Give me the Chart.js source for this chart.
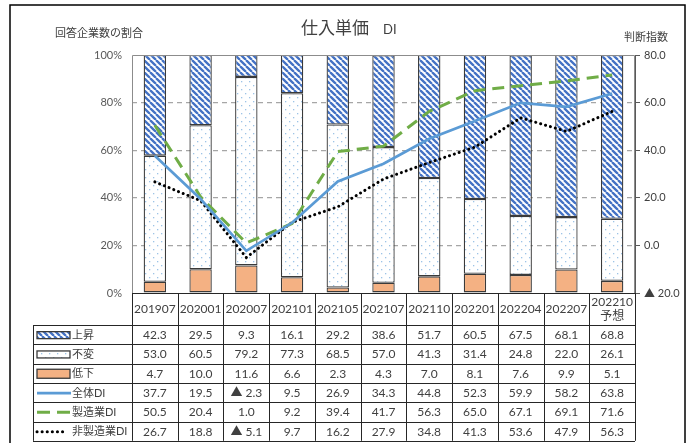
<!DOCTYPE html>
<html><head><meta charset="utf-8">
<script src="https://cdn.jsdelivr.net/npm/chart.js@4"></script>
<style>html,body{margin:0;padding:0;background:#fff}canvas{display:block}</style>
</head><body>
<canvas id="c" width="692" height="443"></canvas>
<script>
// Survey periods (columns of the table)
const periods = ['201907','202001','202007','202101','202105','202107','202110','202201','202204','202207','202210'];
const periodNotes = ['','','','','','','','','','','予想'];

// Share of respondents (%)
const rise = [42.3, 29.5, 9.3, 16.1, 29.2, 38.6, 51.7, 60.5, 67.5, 68.1, 68.8];
const same = [53.0, 60.5, 79.2, 77.3, 68.5, 57.0, 41.3, 31.4, 24.8, 22.0, 26.1];
const fall = [4.7, 10.0, 11.6, 6.6, 2.3, 4.3, 7.0, 8.1, 7.6, 9.9, 5.1];

// Diffusion indexes
const allDI = [37.7, 19.5, -2.3, 9.5, 26.9, 34.3, 44.8, 52.3, 59.9, 58.2, 63.8];
const mfgDI = [50.5, 20.4, 1.0, 9.2, 39.4, 41.7, 56.3, 65.0, 67.1, 69.1, 71.6];
const nonMfgDI = [26.7, 18.8, -5.1, 9.7, 16.2, 27.9, 34.8, 41.3, 53.6, 47.9, 56.3];

// Axis ticks
const shareTicks = [0, 20, 40, 60, 80, 100];
const diTicks = [-20, 0, 20, 40, 60, 80];

const FONT = "Lato, 'Noto Sans CJK JP', sans-serif";
const TEXT = '#404040';

const canvas = document.getElementById('c');
const ctx = canvas.getContext('2d');

function makeHatch() {
  const s = 6, c = document.createElement('canvas');
  c.width = c.height = s;
  const g = c.getContext('2d');
  g.fillStyle = '#fff'; g.fillRect(0, 0, s, s);
  g.strokeStyle = '#4472C4'; g.lineWidth = 2.3;
  g.beginPath();
  for (let k = -1; k <= 1; k++) { g.moveTo(k * s, 0); g.lineTo(k * s + s, s); }
  g.stroke();
  return ctx.createPattern(c, 'repeat');
}
function makeDots() {
  const c = document.createElement('canvas');
  c.width = 8; c.height = 8;
  const g = c.getContext('2d');
  g.fillStyle = '#fff'; g.fillRect(0, 0, 8, 8);
  g.fillStyle = '#9DC3E6';
  g.fillRect(1, 1, 1.3, 1.3);
  g.fillRect(5, 5, 1.3, 1.3);
  return ctx.createPattern(c, 'repeat');
}
const hatch = makeHatch();
const dots = makeDots();
const ORANGE = '#F4B183';
const BAR_BORDER = '#3A3A3A';

const fmt = v => v < 0 ? '▲ ' + Math.abs(v).toFixed(1) : v.toFixed(1);

const barCommon = {
  type: 'bar', yAxisID: 'y', stack: 's', order: 2,
  borderColor: BAR_BORDER, borderWidth: 1.3, borderSkipped: false,
  barPercentage: 0.49, categoryPercentage: 1
};
const lineCommon = {
  type: 'line', yAxisID: 'y2', order: 0, pointRadius: 0, tension: 0, fill: false
};

const dsFall = { ...barCommon, label: '低下', data: fall, backgroundColor: ORANGE };
const dsSame = { ...barCommon, label: '不変', data: same, backgroundColor: dots };
const dsRise = { ...barCommon, label: '上昇', data: rise, backgroundColor: hatch };
const dsAll = { ...lineCommon, label: '全体DI', data: allDI, borderColor: '#5B9BD5', borderWidth: 2.7 };
const dsMfg = { ...lineCommon, label: '製造業DI', data: mfgDI, borderColor: '#70AD47', borderWidth: 3, borderDash: [12, 7] };
const dsNon = { ...lineCommon, label: '非製造業DI', data: nonMfgDI, borderColor: '#000', borderWidth: 3, borderDash: [0.1, 5], borderCapStyle: 'round' };

const tableRows = [
  { ds: dsRise, kind: 'box', h: 7 },
  { ds: dsSame, kind: 'box', h: 7 },
  { ds: dsFall, kind: 'box', h: 9 },
  { ds: dsAll, kind: 'line', x2: 71 },
  { ds: dsMfg, kind: 'line', x2: 70, dash: [13, 7] },
  { ds: dsNon, kind: 'line', x2: 66 }
];

const decor = {
  id: 'decor',
  afterDraw(chart) {
    const { ctx: g, chartArea: a, scales: { x } } = chart;
    const n = periods.length;
    const colW = (a.right - a.left) / n;
    g.save();

    // plot area frame
    g.strokeStyle = '#8C8C8C'; g.lineWidth = 1;
    g.beginPath();
    g.moveTo(a.left + 0.5, a.bottom); g.lineTo(a.left + 0.5, a.top + 0.5);
    g.lineTo(a.right - 0.5, a.top + 0.5); g.lineTo(a.right - 0.5, a.bottom);
    g.stroke();

    // titles
    g.fillStyle = TEXT; g.textBaseline = 'middle';
    g.textAlign = 'left';
    g.font = "17px " + FONT;
    g.fillText('仕入単価', 301, 29);
    g.font = "13px " + FONT;
    g.fillText('DI', 383, 30);
    g.font = "11px " + FONT;
    g.fillText('回答企業数の割合', 55, 33);
    g.fillText('判断指数', 624, 37);

    // data table
    const top = a.bottom, headH = 32, rowH = 19.3;
    const legL = 33;
    const yRows = [top, top + headH];
    for (let r = 1; r <= tableRows.length; r++) yRows.push(top + headH + r * rowH);
    const bottom = yRows[yRows.length - 1];

    g.strokeStyle = '#262626'; g.lineWidth = 1;
    g.beginPath();
    g.moveTo(a.left, top + 0.5); g.lineTo(a.right, top + 0.5);
    for (let r = 1; r < yRows.length; r++) {
      const yy = Math.round(yRows[r]) + 0.5;
      g.moveTo(legL, yy); g.lineTo(a.right, yy);
    }
    for (let c = 0; c <= n; c++) {
      const xx = Math.round(a.left + c * colW) + 0.5;
      g.moveTo(xx, top); g.lineTo(xx, bottom);
    }
    g.moveTo(legL + 0.5, yRows[1]); g.lineTo(legL + 0.5, bottom);
    g.stroke();

    // header: periods
    g.fillStyle = TEXT; g.textAlign = 'center'; g.font = "12px " + FONT;
    periods.forEach((p, i) => {
      const cx = x.getPixelForValue(i);
      if (periodNotes[i]) {
        g.fillText(p, cx, top + 9);
        g.fillText(periodNotes[i], cx, top + 23);
      } else {
        g.fillText(p, cx, top + headH / 2);
      }
    });

    // body rows
    tableRows.forEach((row, r) => {
      const cy = (yRows[r + 1] + yRows[r + 2]) / 2 + 0.5;
      const ds = row.ds;
      // legend swatch
      if (row.kind === 'box') {
        g.fillStyle = ds.backgroundColor;
        g.fillRect(37, cy - row.h / 2, 33, row.h);
        g.strokeStyle = BAR_BORDER; g.lineWidth = 1.3; g.setLineDash([]);
        g.strokeRect(37, cy - row.h / 2, 33, row.h);
      } else {
        g.strokeStyle = ds.borderColor; g.lineWidth = ds.borderWidth;
        g.setLineDash(row.dash || ds.borderDash || []);
        g.lineCap = ds.borderCapStyle || 'butt';
        g.beginPath(); g.moveTo(37, cy); g.lineTo(row.x2, cy); g.stroke();
        g.setLineDash([]); g.lineCap = 'butt';
      }
      g.fillStyle = TEXT; g.textAlign = 'left'; g.font = "11px " + FONT;
      g.fillText(ds.label, 72, cy);
      g.textAlign = 'center'; g.font = "12px " + FONT;
      ds.data.forEach((v, i) => g.fillText(fmt(v), x.getPixelForValue(i), cy));
    });

    // outer frame
    g.strokeStyle = '#000'; g.lineWidth = 1.5;
    g.strokeRect(10, 5, 675, 460);
    g.restore();
  }
};

new Chart(canvas, {
  data: { labels: periods, datasets: [dsFall, dsSame, dsRise, dsAll, dsMfg, dsNon] },
  options: {
    responsive: false, animation: false, events: [],
    layout: { padding: { top: 55, bottom: 150, left: 0, right: 0 } },
    plugins: { legend: { display: false }, tooltip: { enabled: false } },
    scales: {
      x: { display: false, stacked: true },
      y: {
        position: 'left', stacked: true, min: 0, max: 100,
        afterBuildTicks: s => { s.ticks = shareTicks.map(v => ({ value: v })); },
        afterFit: s => { s.width = 132; },
        ticks: { padding: 10, color: '#595959', font: { family: FONT, size: 11 }, callback: v => v + '%' },
        grid: { drawTicks: false, color: c => (c.tick && (c.tick.value === 100 || c.tick.value === 0)) ? 'rgba(0,0,0,0)' : '#A6A6A6', lineWidth: 1.2 },
        border: { display: false, dash: [5, 4] }
      },
      y2: {
        position: 'right', min: -20, max: 80,
        afterBuildTicks: s => { s.ticks = diTicks.map(v => ({ value: v })); },
        afterFit: s => { s.width = 57; },
        ticks: { padding: 4, color: '#404040', font: { family: FONT, size: 11 }, callback: v => fmt(v) },
        grid: { drawOnChartArea: false, drawTicks: true, tickLength: 5, color: '#595959' },
        border: { display: true, color: '#595959', width: 1 }
      }
    }
  },
  plugins: [decor]
});
</script>
</body></html>
